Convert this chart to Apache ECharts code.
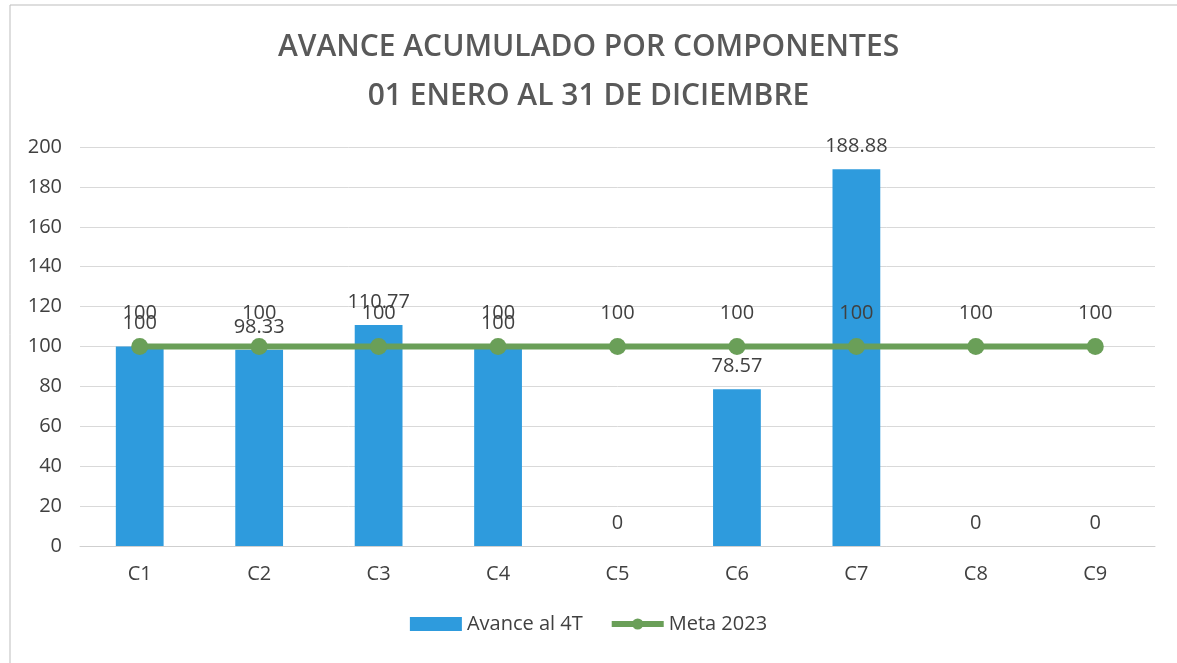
<!DOCTYPE html>
<html>
<head>
<meta charset="utf-8">
<script src="https://cdn.jsdelivr.net/npm/echarts@6/dist/echarts.min.js"></script>
<style>html,body{margin:0;padding:0;background:#fff}#c{width:1177px;height:663px}</style>
</head>
<body>
<div id="c"></div>
<script>
const categories = ['C1','C2','C3','C4','C5','C6','C7','C8','C9'];
const avance = [100, 98.33, 110.77, 100, 0, 78.57, 188.88, 0, 0];
const meta = [100, 100, 100, 100, 100, 100, 100, 100, 100];
const titleLines = ['AVANCE ACUMULADO POR COMPONENTES', '01 ENERO AL 31 DE DICIEMBRE'];

const chart = echarts.init(document.getElementById('c'));
const font = '"Open Sans", "Noto Sans", sans-serif';
const green = '#6A9F58';
chart.setOption({
  backgroundColor: '#fff',
  textStyle: { fontFamily: font },
  graphic: [{
    type: 'rect', shape: { x: 10, y: 5, width: 1200, height: 700 },
    style: { fill: 'none', stroke: '#bdbdbd', lineWidth: 1 }, silent: true
  }],
  title: {
    text: titleLines.join('\n'),
    left: 'center', top: 18,
    textStyle: { fontFamily: font, fontSize: 30, fontWeight: 600, color: '#595959', lineHeight: 49 }
  },
  legend: {
    bottom: 24, left: 'center',
    itemWidth: 52, itemHeight: 14, itemGap: 26,
    textStyle: { fontFamily: font, fontSize: 20, color: '#404040' },
    data: [
      { name: 'Avance al 4T', icon: 'rect', itemStyle: { color: '#2E9BDD' } },
      { name: 'Meta 2023', lineStyle: { width: 6, color: green }, itemStyle: { color: green } }
    ]
  },
  grid: { left: 80, right: 22, top: 147, bottom: 117 },
  xAxis: {
    type: 'category', data: categories,
    axisLine: { show: true, lineStyle: { color: '#cfcfcf' } },
    axisTick: { show: false },
    axisLabel: { fontSize: 20, color: '#404040', margin: 18, fontFamily: font }
  },
  yAxis: {
    type: 'value', min: 0, max: 200, interval: 20,
    axisLine: { show: false }, axisTick: { show: false },
    axisLabel: { fontSize: 20, color: '#404040', margin: 18, fontFamily: font },
    splitLine: { lineStyle: { color: '#d9d9d9', width: 1 } }
  },
  series: [
    {
      name: 'Avance al 4T', type: 'bar', data: avance, barWidth: '40%',
      itemStyle: { color: '#2E9BDD' },
      label: { show: true, position: 'top', distance: 13, fontSize: 20, color: '#404040', fontFamily: font },
      z: 2
    },
    {
      name: 'Meta 2023', type: 'line', data: meta,
      symbol: 'circle', symbolSize: 17,
      lineStyle: { color: green, width: 6 },
      itemStyle: { color: green },
      label: { show: true, position: 'top', distance: 15, fontSize: 20, color: '#404040', fontFamily: font },
      z: 3
    }
  ]
});
</script>
</body>
</html>
